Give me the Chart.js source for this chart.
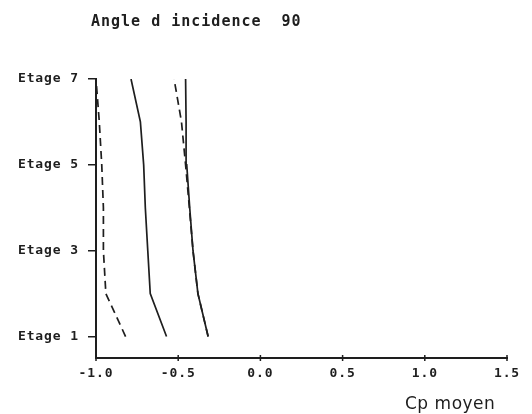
<!DOCTYPE html>
<html>
<head>
<meta charset="utf-8">
<script src="https://cdn.jsdelivr.net/npm/chart.js@4.4.0/dist/chart.umd.min.js"></script>
<style>
  html, body { margin: 0; padding: 0; background: #ffffff; }
  #wrap { width: 532px; height: 414px; }
</style>
</head>
<body>
<div id="wrap"><canvas id="c" width="532" height="414"></canvas></div>
<script>
// ---- data ----
const titleText = "Angle d incidence  90";
const xAxisLabel = "Cp moyen";
const etages = [1, 2, 3, 4, 5, 6, 7];
const etageTicks = [1, 3, 5, 7];
const xTicks = [-1.0, -0.5, 0.0, 0.5, 1.0, 1.5];
const serieA = [-0.82, -0.94, -0.955, -0.955, -0.965, -0.98, -1.0];   // dashed, left
const serieB = [-0.571, -0.67, -0.685, -0.70, -0.71, -0.73, -0.787];  // solid, middle
const serieC = [-0.318, -0.38, -0.41, -0.43, -0.448, -0.452, -0.455]; // solid, right
const serieD = [-0.318, -0.38, -0.41, -0.432, -0.455, -0.48, -0.525]; // dashed, right

const ink = '#1e1e1e';
const toPts = arr => etages.map((e, i) => ({ x: arr[i], y: e }));

const spacing = {
  id: 'spacing',
  beforeLayout(chart) { chart.ctx.letterSpacing = '0.9px'; },
  beforeDraw(chart) { chart.ctx.letterSpacing = '0.9px'; }
};

const extras = {
  id: 'extras',
  afterDraw(chart) {
    const ctx = chart.ctx;
    const xs = chart.scales.x, ys = chart.scales.y;
    ctx.save();
    ctx.strokeStyle = ink;
    ctx.lineWidth = 1.5;
    // crossing tick marks on x axis
    const yb = ys.bottom;
    xTicks.forEach(v => {
      const px = xs.getPixelForValue(v);
      ctx.beginPath();
      ctx.moveTo(px, yb - 3);
      ctx.lineTo(px, yb + 3);
      ctx.stroke();
    });
    // title
    ctx.fillStyle = ink;
    ctx.letterSpacing = '1px';
    ctx.font = 'bold 15px "DejaVu Sans Mono"';
    ctx.textAlign = 'left';
    ctx.textBaseline = 'alphabetic';
    ctx.fillText(titleText, 91, 26);
    // axis label
    ctx.letterSpacing = '0.5px';
    ctx.font = '17px "DejaVu Sans"';
    ctx.fillText(xAxisLabel, 405, 409);
    ctx.restore();
  }
};

const lineStyle = (dash) => ({
  borderColor: ink,
  borderWidth: 1.7,
  borderDash: dash,
  pointRadius: 0,
  showLine: true,
  fill: false,
  tension: 0
});

new Chart(document.getElementById('c'), {
  type: 'scatter',
  data: {
    datasets: [
      Object.assign({ label: 'A', data: toPts(serieA) }, lineStyle([8, 5])),
      Object.assign({ label: 'B', data: toPts(serieB) }, lineStyle([])),
      Object.assign({ label: 'C', data: toPts(serieC) }, lineStyle([])),
      Object.assign({ label: 'D', data: toPts(serieD) }, lineStyle([8, 5]))
    ]
  },
  options: {
    responsive: false,
    animation: false,
    devicePixelRatio: 1,
    layout: { padding: { top: 79, right: 25, bottom: 0, left: 0 } },
    plugins: { legend: { display: false }, tooltip: { enabled: false }, title: { display: false } },
    scales: {
      x: {
        type: 'linear',
        min: -1.0, max: 1.5,
        afterBuildTicks: s => { s.ticks = xTicks.map(v => ({ value: v })); },
        afterFit: s => { s.height = 56; },
        grid: { display: false, drawTicks: false },
        border: { display: true, color: ink, width: 2 },
        ticks: {
          padding: 8,
          color: ink,
          maxRotation: 0,
          autoSkip: false,
          font: { family: '"DejaVu Sans Mono"', size: 13, weight: 'bold' },
          callback: v => Number(v).toFixed(1)
        }
      },
      y: {
        type: 'linear',
        min: 0.5, max: 7,
        afterBuildTicks: s => { s.ticks = etageTicks.map(v => ({ value: v })); },
        afterFit: s => { s.width = 96; },
        grid: { display: true, drawOnChartArea: false, drawTicks: true, tickLength: 8, color: ink, lineWidth: 1.5 },
        border: { display: true, color: ink, width: 2 },
        ticks: {
          padding: 9,
          color: ink,
          autoSkip: false,
          font: { family: '"DejaVu Sans Mono"', size: 13, weight: 'bold' },
          callback: v => 'Etage ' + v
        }
      }
    }
  },
  plugins: [spacing, extras]
});
</script>
</body>
</html>
